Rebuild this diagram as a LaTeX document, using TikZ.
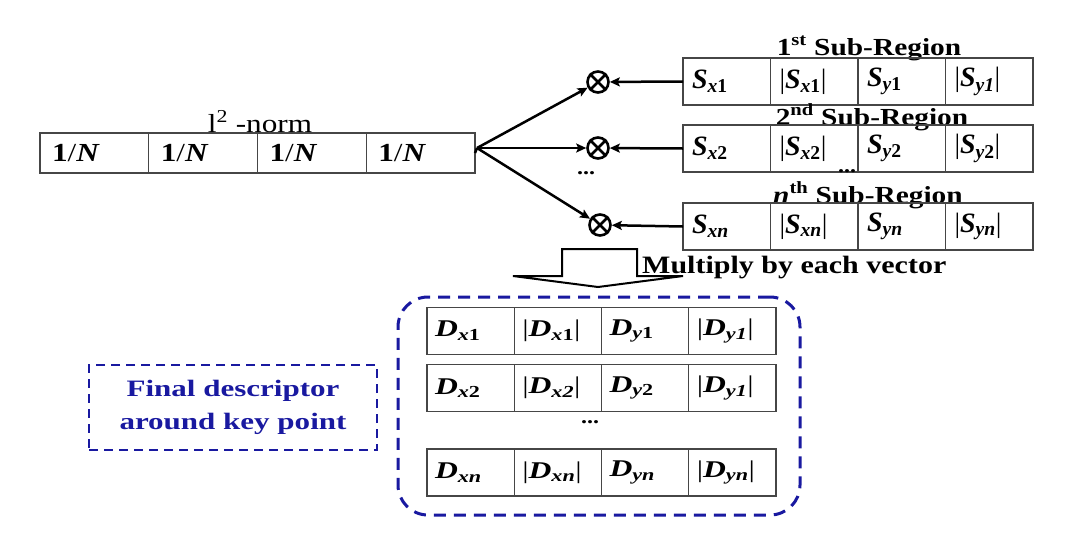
\documentclass[tikz,border=0pt]{standalone}
\usepackage{fontspec}
\setmainfont[FakeStretch=1.2]{Liberation Serif}
\newfontfamily\plainserif{Liberation Serif}
\newfontfamily\wideserif[FakeStretch=1.32]{Liberation Serif}
\usetikzlibrary{arrows.meta,calc}
\definecolor{dblue}{RGB}{25,25,160}
\definecolor{cellgray}{RGB}{70,70,70}
\newcommand{\bv}[3]{{\bfseries\itshape #1}\textsubscript{\bfseries\itshape #2\upshape #3}}
\newcommand{\bvi}[3]{{\bfseries\itshape #1}\textsubscript{\bfseries\itshape #2#3}}
\begin{document}
\begin{tikzpicture}[x=1pt,y=-1pt,
  cell/.style={draw=cellgray, line width=1.4pt, outer sep=0pt, minimum height=47pt,
    inner xsep=9pt, inner ysep=0pt, text width=69.5pt, minimum width=87.5pt,
    align=left, anchor=west, font=\plainserif\fontsize{28}{32}\selectfont},
  dcell/.style={cell, inner xsep=8pt, text width=71.25pt, minimum width=87.25pt,
    font=\wideserif\fontsize{24}{28}\selectfont},
  ncell/.style={cell, minimum height=40pt, inner xsep=12pt, text width=84.75pt, minimum width=108.75pt,
    font=\fontsize{26}{28}\selectfont},
  lbl/.style={font=\fontsize{24.5}{28}\selectfont\bfseries, inner sep=0pt},
  otimes/.style={circle, draw, line width=2.6pt, minimum size=21pt, inner sep=0pt},
  conn/.style={line width=2.5pt, -{Stealth[length=10pt,width=9pt,inset=2pt]}},
  dotsn/.style={font=\fontsize{20}{24}\selectfont\bfseries, inner sep=0pt},
  bigbox/.style={draw=dblue, line width=3pt, dash pattern=on 12pt off 8pt, rounded corners=30pt},
  fdbox/.style={draw=dblue, line width=2.5pt, dash pattern=on 9pt off 6pt, text=dblue,
    align=center, font=\wideserif\fontsize{23.5}{33}\selectfont\bfseries}
]
\useasboundingbox (0,0) rectangle (1083,536);

% l2-norm row
\node[font=\fontsize{26}{28}\selectfont, inner sep=0pt, anchor=base] (norm) at (260,132) {l\textsuperscript{2} -norm};
\node[ncell] (n1) at (40,153) {\textbf{1}/\textbf{\textit{N}}};
\node[ncell] (n2) at (n1.east) {\textbf{1}/\textbf{\textit{N}}};
\node[ncell] (n3) at (n2.east) {\textbf{1}/\textbf{\textit{N}}};
\node[ncell] (n4) at (n3.east) {\textbf{1}/\textbf{\textit{N}}};

% sub-region rows
\node[lbl, anchor=base] (l1) at (869,55) {1\textsuperscript{st} Sub-Region};
\node[cell] (s1a) at (683,81.5) {\bv{S}{x}{1}};
\node[cell] (s1b) at (s1a.east) {|\bv{S}{x}{1}|};
\node[cell] (s1c) at (s1b.east) {\bv{S}{y}{1}};
\node[cell] (s1d) at (s1c.east) {|\bvi{S}{y}{1}|};

\node[lbl, anchor=base] (l2) at (872,125) {2\textsuperscript{nd} Sub-Region};
\node[cell] (s2a) at (683,148.5) {\bv{S}{x}{2}};
\node[cell] (s2b) at (s2a.east) {|\bv{S}{x}{2}|};
\node[cell] (s2c) at (s2b.east) {\bv{S}{y}{2}};
\node[cell] (s2d) at (s2c.east) {|\bv{S}{y}{2}|};
\node[dotsn] (sdots) at (847,171) {...};

\node[lbl, anchor=base] (l3) at (868,203) {\textit{n}\textsuperscript{th} Sub-Region};
\node[cell] (s3a) at (683,226.5) {\bvi{S}{x}{n}};
\node[cell] (s3b) at (s3a.east) {|\bvi{S}{x}{n}|};
\node[cell] (s3c) at (s3b.east) {\bvi{S}{y}{n}};
\node[cell] (s3d) at (s3c.east) {|\bvi{S}{y}{n}|};

% multipliers
\node[otimes] (m1) at (598,82) {};
\node[otimes] (m2) at (598,148) {};
\node[otimes] (m3) at (600,225) {};
\foreach \m in {m1,m2,m3}{
  \draw[line width=2.6pt] (\m.north east) -- (\m.south west) (\m.north west) -- (\m.south east);
}
\node[dotsn] (mdots) at (586,173) {...};

\coordinate (br) at (477,148);
\draw[line width=2.5pt] (n4.east) -- (br);
\draw[conn] (br) -- (m1);
\draw[conn] (br) -- (m2);
\draw[conn] (br) -- (m3);
\draw[conn] (s1a.west) -- (m1);
\draw[conn] (s2a.west) -- (m2);
\draw[conn] (s3a.west) -- (m3);

% block arrow
\draw[line width=2pt, fill=white, line join=miter]
  (562,249) -- (637,249) -- (637,276) -- (683,276) -- (598,287) -- (513,276) -- (562,276) -- cycle;
\node[lbl, anchor=base west, font=\fontsize{25}{28}\selectfont\bfseries] (mult) at (642,273) {Multiply by each vector};

% final descriptor group
\node[bigbox, minimum width=402pt, minimum height=218pt] (grp) at (599,406) {};
\node[dcell] (d1a) at (427,331) {\bv{D}{x}{1}};
\node[dcell] (d1b) at (d1a.east) {|\bv{D}{x}{1}|};
\node[dcell] (d1c) at (d1b.east) {\bv{D}{y}{1}};
\node[dcell] (d1d) at (d1c.east) {|\bvi{D}{y}{1}|};

\node[dcell] (d2a) at (427,388) {\bv{D}{x}{2}};
\node[dcell] (d2b) at (d2a.east) {|\bvi{D}{x}{2}|};
\node[dcell] (d2c) at (d2b.east) {\bv{D}{y}{2}};
\node[dcell] (d2d) at (d2c.east) {|\bvi{D}{y}{1}|};
\node[dotsn] (ddots) at (590,422) {...};

\node[dcell] (d3a) at (427,472.5) {\bvi{D}{x}{n}};
\node[dcell] (d3b) at (d3a.east) {|\bvi{D}{x}{n}|};
\node[dcell] (d3c) at (d3b.east) {\bvi{D}{y}{n}};
\node[dcell] (d3d) at (d3c.east) {|\bvi{D}{y}{n}|};

\node[fdbox, minimum width=288pt, minimum height=85pt] (fd) at (233,407.5) {Final descriptor\\around key point};
\end{tikzpicture}
\end{document}
